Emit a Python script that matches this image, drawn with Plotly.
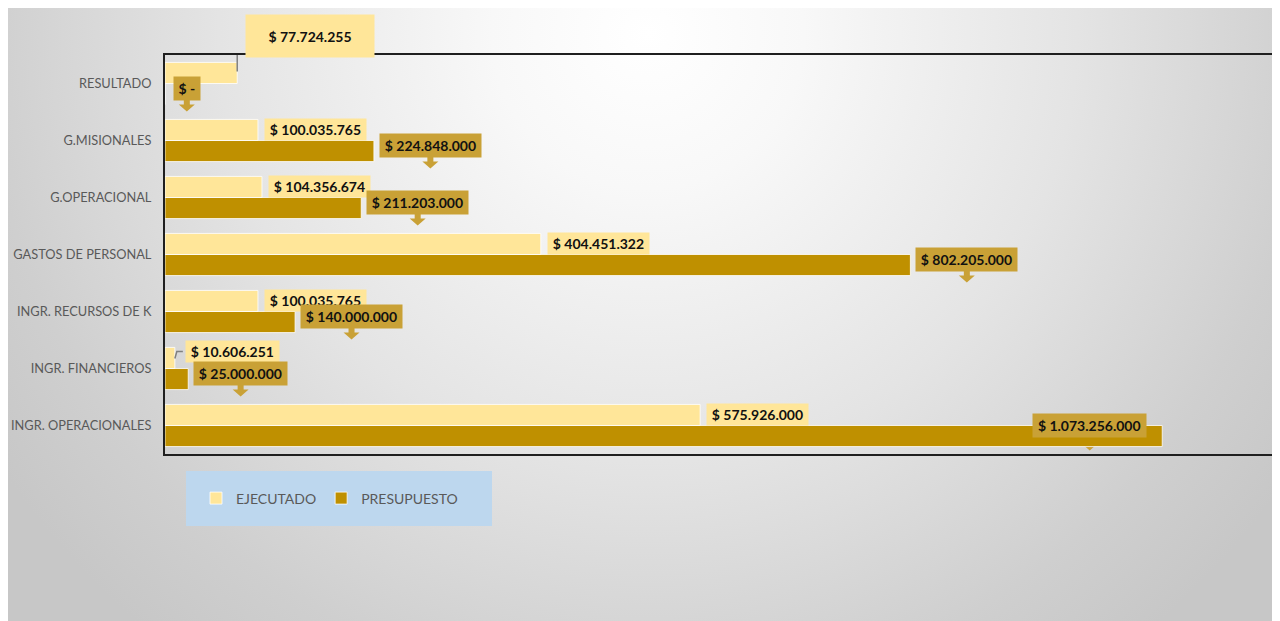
import base64
import plotly.graph_objects as go

# ---------------- data ----------------
categories = ["INGR. OPERACIONALES", "INGR. FINANCIEROS", "INGR. RECURSOS DE K",
              "GASTOS DE PERSONAL", "G.OPERACIONAL", "G.MISIONALES", "RESULTADO"]
ejecutado = [575926000, 10606251, 100035765, 404451322, 104356674, 100035765, 77724255]
presupuesto = [1073256000, 25000000, 140000000, 802205000, 211203000, 224848000, 0]
series_names = ["EJECUTADO", "PRESUPUESTO"]

# ---------------- style ----------------
BODY = 8                      # default page margin of the html body
W, H = 1280 - BODY, 621 - BODY
ML, MR, MT, MB = 165 - BODY, 0, 55 - BODY, 167
PW, PH = W - ML - MR, H - MT - MB
XMAX = 1.2e9
C_EJE = "#FFE699"
C_PRE = "#BF9000"
C_PRE_LBL = "#C9A136"
FONT = "Lato"
TXT = "#595959"


def fmt(v):
    if v == 0:
        return "$ -"
    return "$ " + f"{v:,}".replace(",", ".")


def text_w(s):
    w = 0.0
    for ch in s:
        if ch.isdigit() or ch == "$":
            w += 8.12
        elif ch == ".":
            w += 3.5
        elif ch == " ":
            w += 2.7
        elif ch == "-":
            w += 4.8
    return w


fig = go.Figure()
fig.add_trace(go.Bar(name=series_names[1], y=categories, x=presupuesto, orientation="h",
                     marker=dict(color=C_PRE, line=dict(color="rgba(255,255,255,0.8)", width=1)),
                     legendrank=2, hoverinfo="x+y"))
fig.add_trace(go.Bar(name=series_names[0], y=categories, x=ejecutado, orientation="h",
                     marker=dict(color=C_EJE, line=dict(color="rgba(255,255,255,0.8)", width=1)),
                     legendrank=1, hoverinfo="x+y"))

annotations = []
shapes = []
lbl_font = dict(family=FONT, size=14, color="#111111", weight="bold")

# label placement tweaks (pixels)
eje_special = {
    "RESULTADO": dict(dx=8, dy=48, w=128, h=42, leader="M0,12 L0,49 L8,49"),
    "INGR. FINANCIEROS": dict(dx=10, dy=17.5, w=None, h=21, leader="M0,10 L2,17 L8,17"),
}
pre_special = {
    "INGR. OPERACIONALES": dict(center=-72.5, dy=0, tip=-25, layer="below"),
}

for i, cat in enumerate(categories):
    # EJECUTADO label
    v = ejecutado[i]
    t = fmt(v)
    sp = eje_special.get(cat)
    w = text_w(t) + 10
    if sp:
        w = sp["w"] or w
        annotations.append(dict(x=v, y=cat, xref="x", yref="y", text=t, showarrow=False,
                                xanchor="left", yanchor="middle", xshift=sp["dx"], yshift=sp["dy"],
                                width=w, height=sp["h"], borderpad=0, bgcolor=C_EJE,
                                font=lbl_font, align="center", valign="middle"))
        shapes.append(dict(type="path", xref="x", yref="y", xsizemode="pixel", ysizemode="pixel",
                           xanchor=v, yanchor=i, path=sp["leader"],
                           line=dict(color="#808080", width=1.5)))
    else:
        annotations.append(dict(x=v, y=cat, xref="x", yref="y", text=t, showarrow=False,
                                xanchor="left", yanchor="middle", xshift=6, yshift=11,
                                width=w, height=21, borderpad=0, bgcolor=C_EJE,
                                font=lbl_font, align="center", valign="middle"))

    # PRESUPUESTO label (callout with arrow)
    v = presupuesto[i]
    t = fmt(v)
    w = text_w(t) + 10
    sp = pre_special.get(cat)
    if sp:
        xc = sp["center"]
        dy = sp["dy"]
        tip = sp["tip"]
        layer = sp["layer"]
    else:
        xc = (9 if v == 0 else 6) + w / 2
        dy = -5
        tip = -28
        layer = "above"
    annotations.append(dict(x=v, y=cat, xref="x", yref="y", text=t, showarrow=False,
                            xanchor="center", yanchor="middle", xshift=xc, yshift=dy,
                            width=w, height=23, borderpad=0, bgcolor=C_PRE_LBL,
                            font=lbl_font, align="center", valign="middle"))
    bot = dy - 11.5
    neck = tip + 7
    path = (f"M{xc-3},{bot} L{xc+3},{bot} L{xc+3},{neck} L{xc+8},{neck} "
            f"L{xc},{tip} L{xc-8},{neck} L{xc-3},{neck} Z")
    shapes.append(dict(type="path", xref="x", yref="y", xsizemode="pixel", ysizemode="pixel",
                       xanchor=v, yanchor=i, path=path, fillcolor=C_PRE_LBL,
                       line=dict(width=0), layer=layer))


# page-pixel -> paper helpers
def px2x(px):
    return (px - BODY - ML) / PW


def px2y(py):
    return (H - MB - (py - BODY)) / PH


# legend background box
shapes.append(dict(type="rect", xref="paper", yref="paper", x0=px2x(186), x1=px2x(492),
                   y0=px2y(526), y1=px2y(471), fillcolor="#BDD7EE", line=dict(width=0),
                   layer="below"))

# gradient background (radial) as an SVG image
bw, bh = W, H
svg = (f"<svg xmlns='http://www.w3.org/2000/svg' width='{bw}' height='{bh}' viewBox='0 0 {bw} {bh}' "
       f"preserveAspectRatio='none'><defs><radialGradient id='g' gradientUnits='userSpaceOnUse' "
       f"cx='640' cy='25' r='780'>"
       f"<stop offset='0' stop-color='#ffffff'/><stop offset='0.2' stop-color='#f8f8f8'/>"
       f"<stop offset='0.55' stop-color='#e4e4e4'/><stop offset='0.85' stop-color='#cfcfcf'/>"
       f"<stop offset='1' stop-color='#c7c7c7'/></radialGradient></defs>"
       f"<rect width='{bw}' height='{bh}' fill='url(#g)'/></svg>")
src = "data:image/svg+xml;base64," + base64.b64encode(svg.encode()).decode()

fig.update_layout(
    width=W, height=H,
    margin=dict(l=ML, r=MR, t=MT, b=MB, pad=0, autoexpand=False),
    paper_bgcolor="white", plot_bgcolor="rgba(0,0,0,0)",
    barmode="group", bargap=0.26, bargroupgap=0,
    font=dict(family=FONT, color=TXT),
    xaxis=dict(range=[0, XMAX], showticklabels=False, showgrid=False, zeroline=False,
               showline=True, mirror=True, linecolor="#1f1f1f", linewidth=2, ticks="",
               automargin=False),
    yaxis=dict(range=[-0.5, 6.5], showgrid=False, zeroline=False, showline=True,
               linecolor="#1f1f1f", linewidth=2, ticks="", ticklabelstandoff=9,
               automargin=False, tickfont=dict(family=FONT, size=12.8, color=TXT)),
    showlegend=True,
    legend=dict(orientation="h", x=px2x(196), xanchor="left", y=px2y(498.5), yanchor="middle",
                bgcolor="rgba(0,0,0,0)", font=dict(family=FONT, size=14, color=TXT),
                itemclick=False, itemdoubleclick=False),
    annotations=annotations,
    shapes=shapes,
    images=[dict(source=src, xref="paper", yref="paper", x=px2x(BODY), y=px2y(BODY),
                 sizex=bw / PW, sizey=bh / PH, xanchor="left", yanchor="top",
                 sizing="stretch", layer="below")],
)

fig.write_html("out.html")
